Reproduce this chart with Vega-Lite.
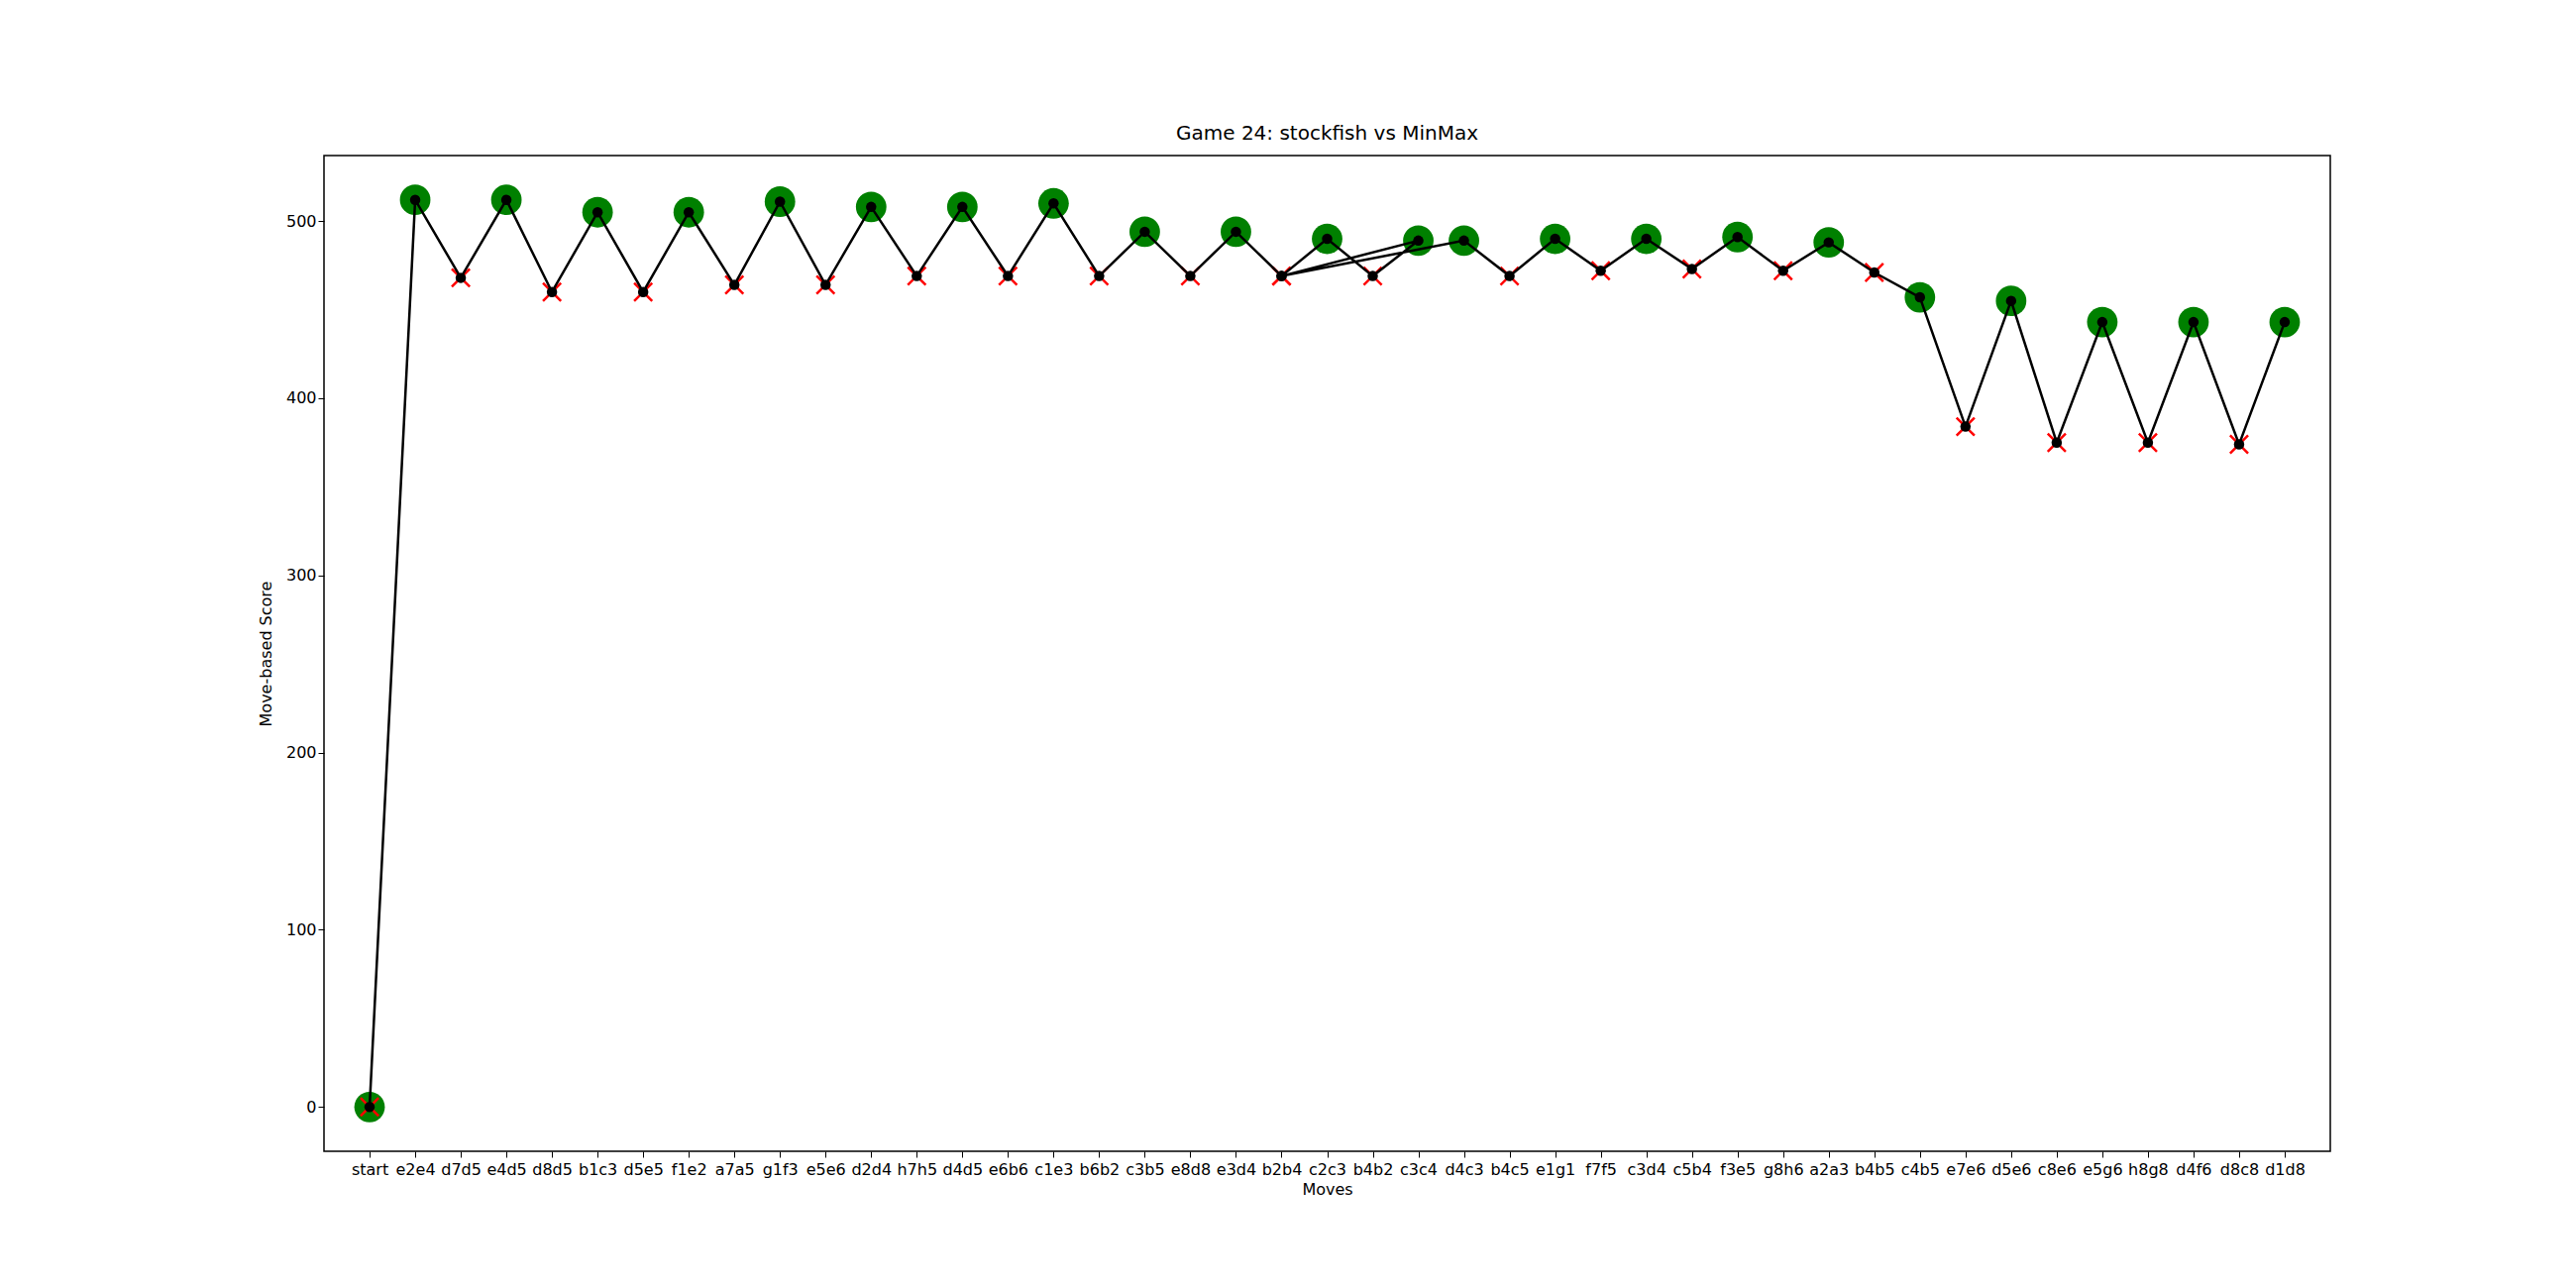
{
  "$schema": "https://vega.github.io/schema/vega-lite/v6.json",
  "width": 2025,
  "height": 1005,
  "padding": {"left": 327, "top": 157, "right": 200, "bottom": 60},
  "autosize": {"type": "none"},
  "background": "white",
  "title": {"text": "Game 24: stockfish vs MinMax", "font": "DejaVu Sans", "fontSize": 20, "fontWeight": "normal", "offset": 12},
  "config": {
    "view": {"stroke": "black", "strokeWidth": 1.5},
    "axis": {"labelFont": "DejaVu Sans", "titleFont": "DejaVu Sans", "labelFontSize": 16, "titleFontSize": 16, "titleFontWeight": "normal", "grid": false, "domain": false, "tickColor": "black", "tickSize": 6, "labelColor": "black", "titleColor": "black"}
  },
  "data": {"values": [
    {"step": 0, "move": "start", "score": 0, "marker": "both"},
    {"step": 1, "move": "e2e4", "score": 512, "marker": "circle"},
    {"step": 2, "move": "d7d5", "score": 468, "marker": "cross"},
    {"step": 3, "move": "e4d5", "score": 512, "marker": "circle"},
    {"step": 4, "move": "d8d5", "score": 460, "marker": "cross"},
    {"step": 5, "move": "b1c3", "score": 505, "marker": "circle"},
    {"step": 6, "move": "d5e5", "score": 460, "marker": "cross"},
    {"step": 7, "move": "f1e2", "score": 505, "marker": "circle"},
    {"step": 8, "move": "a7a5", "score": 464, "marker": "cross"},
    {"step": 9, "move": "g1f3", "score": 511, "marker": "circle"},
    {"step": 10, "move": "e5e6", "score": 464, "marker": "cross"},
    {"step": 11, "move": "d2d4", "score": 508, "marker": "circle"},
    {"step": 12, "move": "h7h5", "score": 469, "marker": "cross"},
    {"step": 13, "move": "d4d5", "score": 508, "marker": "circle"},
    {"step": 14, "move": "e6b6", "score": 469, "marker": "cross"},
    {"step": 15, "move": "c1e3", "score": 510, "marker": "circle"},
    {"step": 16, "move": "b6b2", "score": 469, "marker": "cross"},
    {"step": 17, "move": "c3b5", "score": 494, "marker": "circle"},
    {"step": 18, "move": "e8d8", "score": 469, "marker": "cross"},
    {"step": 19, "move": "e3d4", "score": 494, "marker": "circle"},
    {"step": 20, "move": "b2b4", "score": 469, "marker": "cross"},
    {"step": 21, "move": "c2c3", "score": 490, "marker": "circle"},
    {"step": 22, "move": "b4b2", "score": 469, "marker": "cross"},
    {"step": 23, "move": "c3c4", "score": 489, "marker": "circle"},
    {"step": 24, "move": "b2b4", "score": 469, "marker": "cross"},
    {"step": 25, "move": "d4c3", "score": 489, "marker": "circle"},
    {"step": 26, "move": "b4c5", "score": 469, "marker": "cross"},
    {"step": 27, "move": "e1g1", "score": 490, "marker": "circle"},
    {"step": 28, "move": "f7f5", "score": 472, "marker": "cross"},
    {"step": 29, "move": "c3d4", "score": 490, "marker": "circle"},
    {"step": 30, "move": "c5b4", "score": 473, "marker": "cross"},
    {"step": 31, "move": "f3e5", "score": 491, "marker": "circle"},
    {"step": 32, "move": "g8h6", "score": 472, "marker": "cross"},
    {"step": 33, "move": "a2a3", "score": 488, "marker": "circle"},
    {"step": 34, "move": "b4b5", "score": 471, "marker": "cross"},
    {"step": 35, "move": "c4b5", "score": 457, "marker": "circle"},
    {"step": 36, "move": "e7e6", "score": 384, "marker": "cross"},
    {"step": 37, "move": "d5e6", "score": 455, "marker": "circle"},
    {"step": 38, "move": "c8e6", "score": 375, "marker": "cross"},
    {"step": 39, "move": "e5g6", "score": 443, "marker": "circle"},
    {"step": 40, "move": "h8g8", "score": 375, "marker": "cross"},
    {"step": 41, "move": "d4f6", "score": 443, "marker": "circle"},
    {"step": 42, "move": "d8c8", "score": 374, "marker": "cross"},
    {"step": 43, "move": "d1d8", "score": 443, "marker": "circle"}
  ]},
  "encoding": {
    "x": {"field": "move", "type": "ordinal", "title": "Moves",
      "scale": {"type": "point", "padding": 2.14,
        "domain": ["start","e2e4","d7d5","e4d5","d8d5","b1c3","d5e5","f1e2","a7a5","g1f3","e5e6","d2d4","h7h5","d4d5","e6b6","c1e3","b6b2","c3b5","e8d8","e3d4","b2b4","c2c3","b4b2","c3c4","d4c3","b4c5","e1g1","f7f5","c3d4","c5b4","f3e5","g8h6","a2a3","b4b5","c4b5","e7e6","d5e6","c8e6","e5g6","h8g8","d4f6","d8c8","d1d8"]},
      "axis": {"labelAngle": 0, "labelPadding": 4}},
    "y": {"field": "score", "type": "quantitative", "title": "Move-based Score",
      "scale": {"domain": [-25, 537], "nice": false, "zero": false},
      "axis": {"values": [0, 100, 200, 300, 400, 500], "titlePadding": 12}}
  },
  "layer": [
    {"transform": [{"filter": "datum.marker != 'cross'"}],
     "mark": {"type": "point", "shape": "circle", "filled": true, "color": "green", "size": 950, "opacity": 1}},
    {"transform": [{"filter": "datum.marker != 'circle'"}],
     "mark": {"type": "point", "shape": "M-1,-1L1,1M-1,1L1,-1", "filled": false, "color": "red", "size": 330, "strokeWidth": 2.5, "opacity": 1}},
    {"mark": {"type": "line", "color": "black", "strokeWidth": 2.5},
     "encoding": {"order": {"field": "step", "type": "quantitative"}}},
    {"mark": {"type": "point", "shape": "circle", "filled": true, "color": "black", "size": 110, "opacity": 1}}
  ]
}
